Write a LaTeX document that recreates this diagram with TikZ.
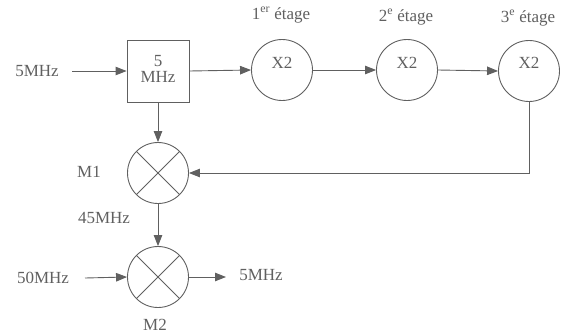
\documentclass[tikz,border=0pt]{standalone}
\usepackage{fontspec}
\setmainfont{Liberation Serif}
\usetikzlibrary{arrows.meta}
\definecolor{ink}{HTML}{606060}
\begin{document}
\begin{tikzpicture}[x=1pt,y=-1pt,
  every node/.style={text=ink,font=\fontsize{17}{19}\selectfont},
  conn/.style={draw=ink,line width=0.9pt,-{Triangle[length=11pt,width=8.5pt]}},
  stage/.style={circle,draw=ink,line width=0.9pt,minimum size=61pt,inner sep=0pt},
  mixer/.style={circle,draw=ink,line width=0.9pt,minimum size=61pt,inner sep=0pt,
    path picture={\draw[ink,line width=0.9pt] (path picture bounding box.north west) -- (path picture bounding box.south east)
      (path picture bounding box.north east) -- (path picture bounding box.south west);}},
  blk/.style={rectangle,draw=ink,line width=0.9pt,minimum width=62pt,minimum height=62pt,inner sep=0pt}]
\useasboundingbox (0,0) rectangle (568,335);
% nodes
\node[blk] (box) at (158,71) {};
\node[align=center,inner sep=0pt] (boxt) at (158,69) {5\\[-3pt]MHz};
\node[stage] (c1) at (282,70) {};
\node[stage] (c2) at (407,70) {};
\node[stage] (c3) at (529,71) {};
\node (x1) at (282,63) {X2};
\node (x2) at (407,63) {X2};
\node (x3) at (529,63) {X2};
\node (e1) at (281,15) {1\textsuperscript{er} étage};
\node (e2) at (406,17) {2\textsuperscript{e} étage};
\node (e3) at (528,18) {3\textsuperscript{e} étage};
\node[mixer] (m1) at (158,173) {};
\node[mixer] (m2) at (158,277) {};
\node (lin) at (37,71) {5MHz};
\node (l50) at (43,278) {50MHz};
\node (lout) at (261,275) {5MHz};
\node (lm1) at (89,172) {M1};
\node (l45) at (104,218) {45MHz};
\node (lm2) at (155,325) {M2};
\coordinate (in5) at (72,71);
\coordinate (in50) at (85,278);
\coordinate (out5) at (226,277);
\coordinate (turn) at (529,173);
% connectors
\draw[conn] (in5) -- (box.west);
\draw[conn] (box.east) -- (c1.west);
\draw[conn] (c1.east) -- (c2.west);
\draw[conn] (c2.east) -- (c3.west);
\draw[conn] (c3.south) -- (turn) -- (m1.east);
\draw[conn] (box.south) -- (m1.north);
\draw[conn] (m1.south) -- (m2.north);
\draw[conn] (in50) -- (m2.west);
\draw[conn] (m2.east) -- (out5);
\end{tikzpicture}
\end{document}
